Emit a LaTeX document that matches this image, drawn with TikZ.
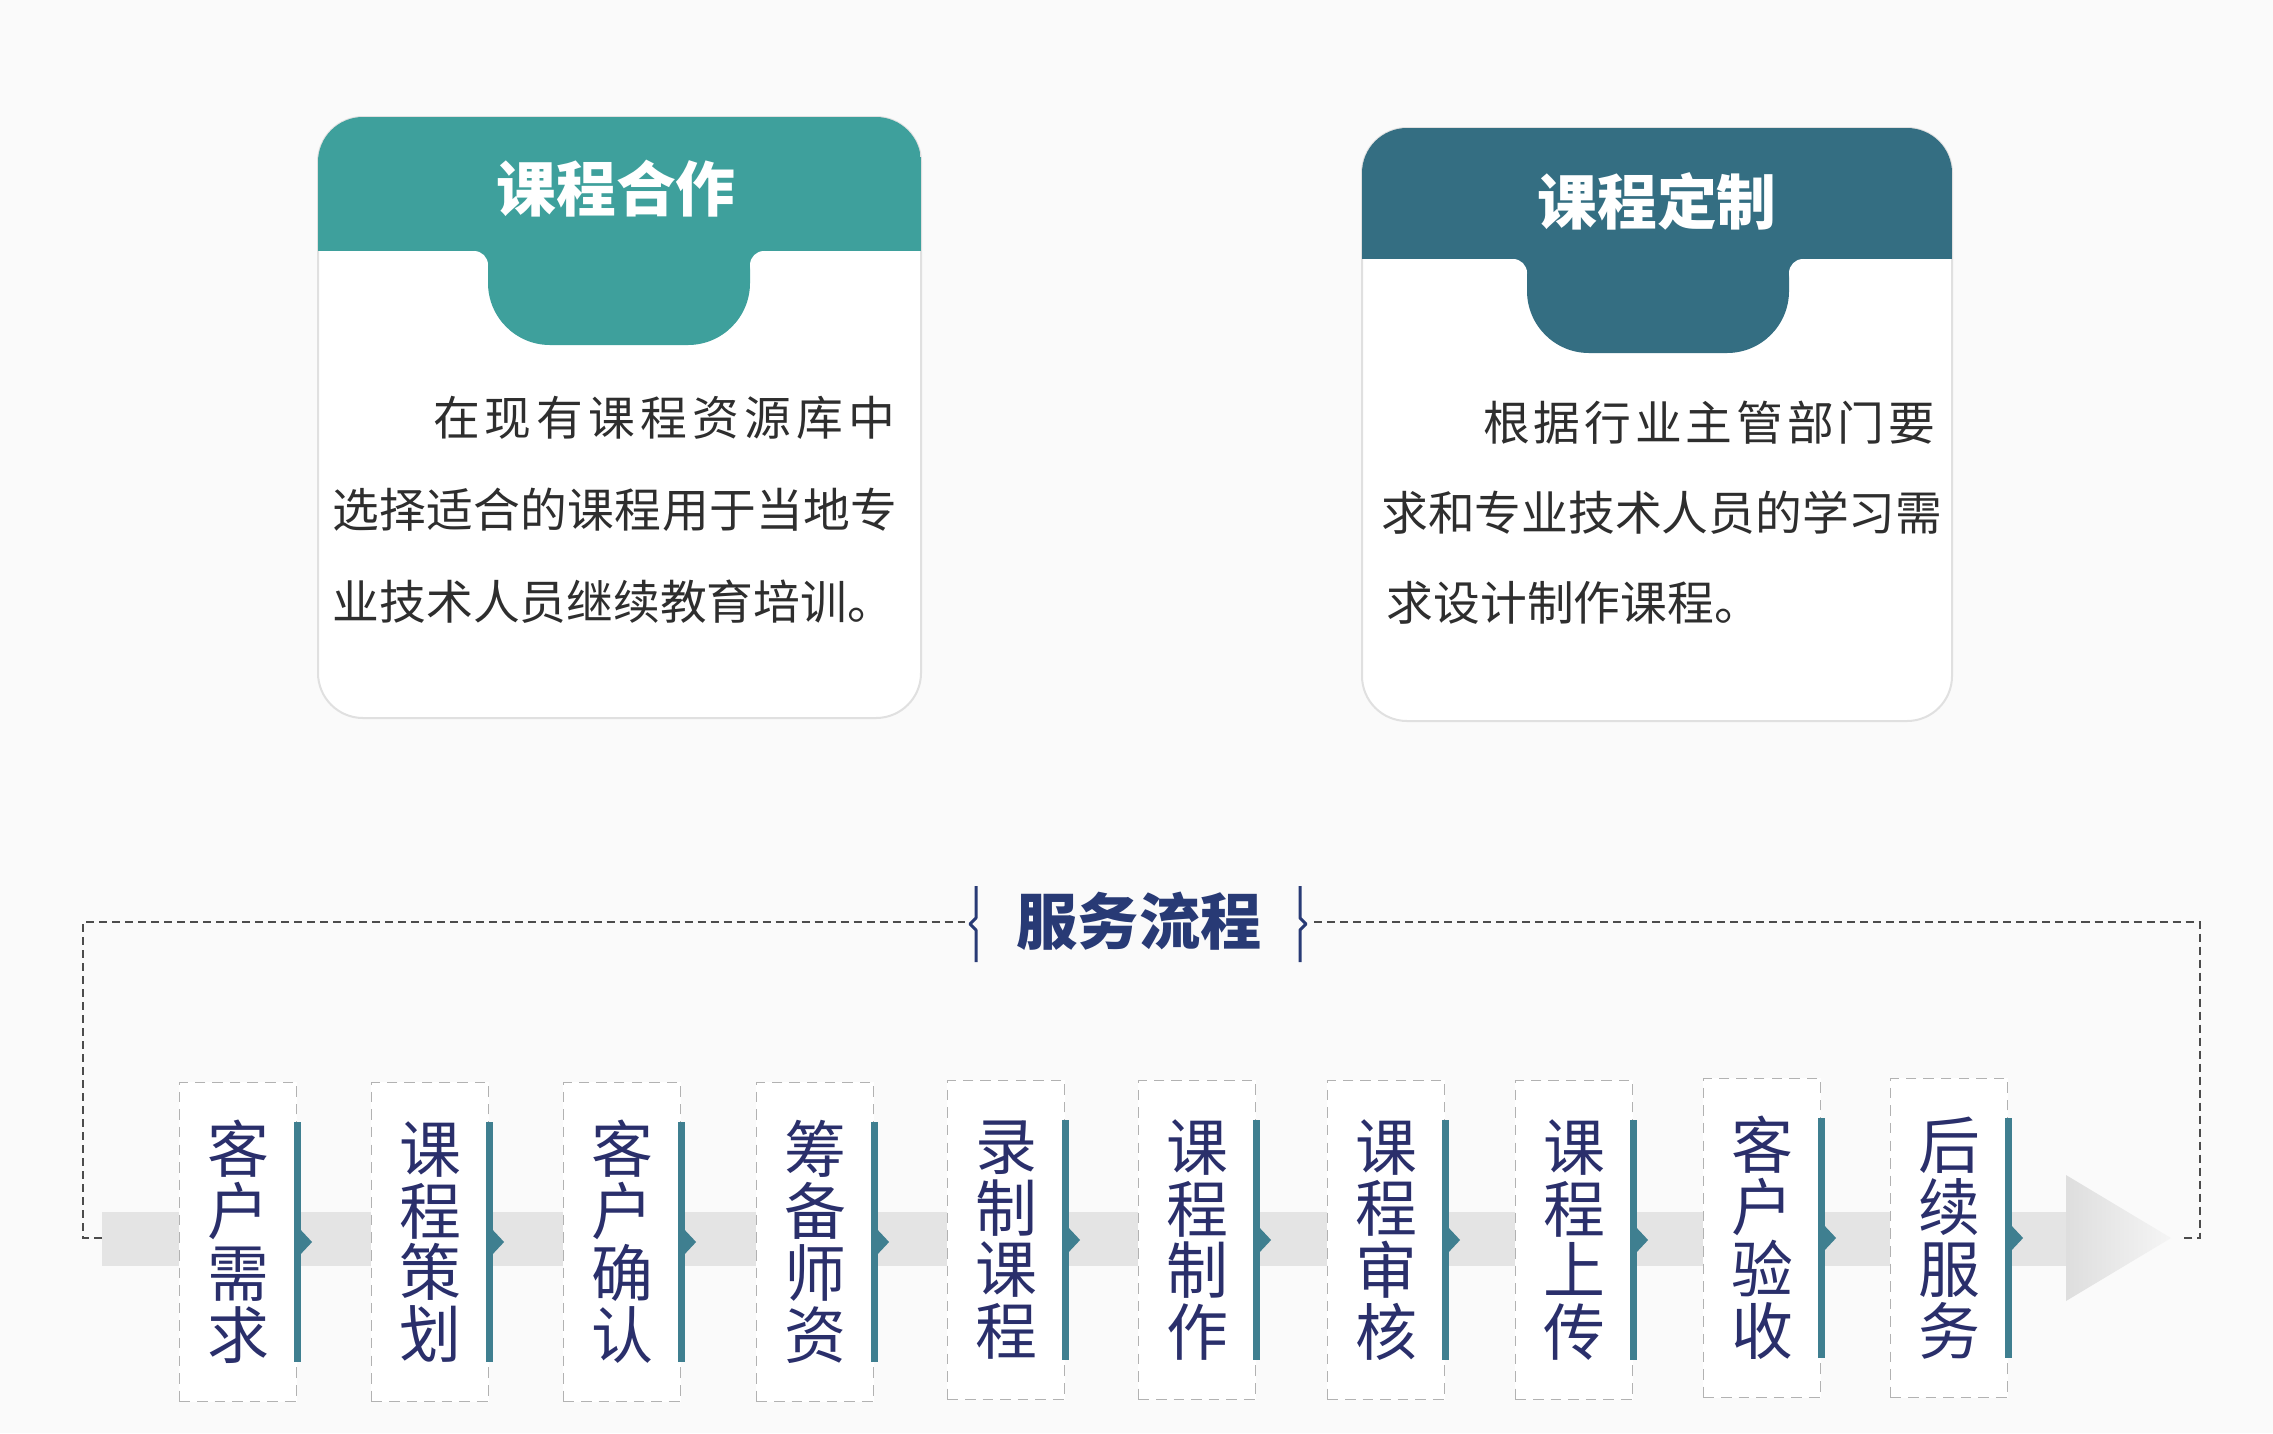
\documentclass[tikz,border=0pt]{standalone}
\usepackage{fontspec}
\setmainfont{Noto Sans CJK SC}
\usetikzlibrary{calc}
\definecolor{bg}{HTML}{FAFAFA}
\definecolor{tealA}{HTML}{3EA09C}
\definecolor{tealB}{HTML}{346E82}
\definecolor{barc}{HTML}{3F7F90}
\definecolor{navy}{HTML}{2A2F6B}
\definecolor{titlenavy}{HTML}{283A75}
\definecolor{bodygray}{HTML}{2E2E2E}
\definecolor{bandgray}{HTML}{E4E4E4}
\tikzset{
  card/.style={fill=white, draw=black!12, line width=0.02cm, rounded corners=0.45cm},
  tabshape/.style={rounded corners=0.62cm},
  cardtitle/.style={text=white, inner sep=0, font=\fontsize{17pt}{17pt}\selectfont\bfseries},
  bodyline/.style={text=bodygray, inner sep=0, font=\fontsize{13.3pt}{13.3pt}\selectfont},
  stepbox/.style={draw=black!30, densely dashed, line width=0.011cm, fill=white,
    minimum width=1.17cm, minimum height=3.19cm, inner sep=0, align=center,
    text=navy, font=\fontsize{17.6pt}{17.6pt}\selectfont},
  barline/.style={draw=barc, line width=0.07cm},
  chev/.style={fill=barc},
  loopline/.style={draw=black!70, dash pattern=on 0.08cm off 0.05cm, line width=0.024cm},
  bracel/.style={draw=titlenavy, line width=0.03cm, line join=round},
  flowtitle/.style={text=titlenavy, inner sep=0, font=\fontsize{17.4pt}{17.4pt}\selectfont\bfseries},
}
\begin{document}
\begin{tikzpicture}[x=0.01cm, y=-0.01cm]
\useasboundingbox (0,0) rectangle (2273,1433);
\fill[bg] (0,0) rectangle (2273,1433);

% ---------- left card ----------
\path[card] (318,117) rectangle (921,718);
\begin{scope}
  \clip[rounded corners=0.45cm] (318,117) rectangle (921,718);
  \fill[tealA] (318,117) rectangle (921,251);
  \fill[tealA, tabshape] (488,150) rectangle (750,345);
\end{scope}
\fill[tealA] (474,251) rectangle (488,265);
\fill[white] (474,265) circle[radius=0.14cm];
\fill[tealA] (750,251) rectangle (764,265);
\fill[white] (764,265) circle[radius=0.14cm];
\node[cardtitle] (t1) at (616,189) {课程合作};
\node[bodyline, anchor=east] (l1a) at (896,418) {\makebox[4.62cm]{在\hfill 现\hfill 有\hfill 课\hfill 程\hfill 资\hfill 源\hfill 库\hfill 中}};
\node[bodyline, anchor=west] (l1b) at (332,510) {\makebox[5.64cm]{选\hfill 择\hfill 适\hfill 合\hfill 的\hfill 课\hfill 程\hfill 用\hfill 于\hfill 当\hfill 地\hfill 专}};
\node[bodyline, anchor=west] (l1c) at (332,602) {业技术人员继续教育培训。};

% ---------- right card ----------
\path[card] (1362,128) rectangle (1952,721);
\begin{scope}
  \clip[rounded corners=0.45cm] (1362,128) rectangle (1952,721);
  \fill[tealB] (1362,128) rectangle (1952,259);
  \fill[tealB, tabshape] (1527,160) rectangle (1789,353);
\end{scope}
\fill[tealB] (1513,259) rectangle (1527,273);
\fill[white] (1513,273) circle[radius=0.14cm];
\fill[tealB] (1789,259) rectangle (1803,273);
\fill[white] (1803,273) circle[radius=0.14cm];
\node[cardtitle] (t2) at (1657,201) {课程定制};
\node[bodyline, anchor=east] (l2a) at (1936,423) {\makebox[4.52cm]{根\hfill 据\hfill 行\hfill 业\hfill 主\hfill 管\hfill 部\hfill 门\hfill 要}};
\node[bodyline, anchor=west] (l2b) at (1386,513) {\makebox[5.50cm]{求\hfill 和\hfill 专\hfill 业\hfill 技\hfill 术\hfill 人\hfill 员\hfill 的\hfill 学\hfill 习\hfill 需}};
\node[bodyline, anchor=west] (l2c) at (1386,603) {求设计制作课程。};

% ---------- flow title ----------
\node[flowtitle] (ft) at (1139,921) {服务流程};
\coordinate (bl) at (976,924);
\coordinate (br) at (1300,924);
\draw[bracel] ($(bl)+(0,-38)$) -- ($(bl)+(0,-6)$) -- ($(bl)+(-6,0)$) -- ($(bl)+(0,6)$) -- ($(bl)+(0,38)$);
\draw[bracel] ($(br)+(0,-38)$) -- ($(br)+(0,-6)$) -- ($(br)+(6,0)$) -- ($(br)+(0,6)$) -- ($(br)+(0,38)$);

% ---------- band arrow ----------
\coordinate (bandstart) at (102,1238);
\coordinate (headbase) at (2066,1238);
\coordinate (tip) at (2171,1238);
\fill[bandgray] (102,1212) rectangle (2066,1266);
\shade[left color=black!13, right color=black!4] (2066,1175) -- (tip) -- (2066,1301) -- cycle;

% ---------- dashed loop ----------
\draw[loopline] (bandstart) -- (83,1238) -- (83,922) -- (965,922);
\draw[loopline] (1314,922) -- (2200,922) -- (2200,1238) -- (2180,1238);

% ---------- steps ----------
\node[stepbox] (s1) at (238,1242) {客\\户\\需\\求};
\node[stepbox] (s2) at (430,1242) {课\\程\\策\\划};
\node[stepbox] (s3) at (622,1242) {客\\户\\确\\认};
\node[stepbox] (s4) at (815,1242) {筹\\备\\师\\资};
\node[stepbox] (s5) at (1006,1240) {录\\制\\课\\程};
\node[stepbox] (s6) at (1197,1240) {课\\程\\制\\作};
\node[stepbox] (s7) at (1386,1240) {课\\程\\审\\核};
\node[stepbox] (s8) at (1574,1240) {课\\程\\上\\传};
\node[stepbox] (s9) at (1762,1238) {客\\户\\验\\收};
\node[stepbox] (s10) at (1949,1238) {后\\续\\服\\务};

\foreach \i in {1,...,10} {
  \draw[barline] ($(s\i.east)+(0,-120)$) -- ($(s\i.east)+(0,120)$);
  \fill[chev] ($(s\i.east)+(0,-16)$) -- ($(s\i.east)+(15,0)$) -- ($(s\i.east)+(0,16)$) -- cycle;
}
\end{tikzpicture}
\end{document}
